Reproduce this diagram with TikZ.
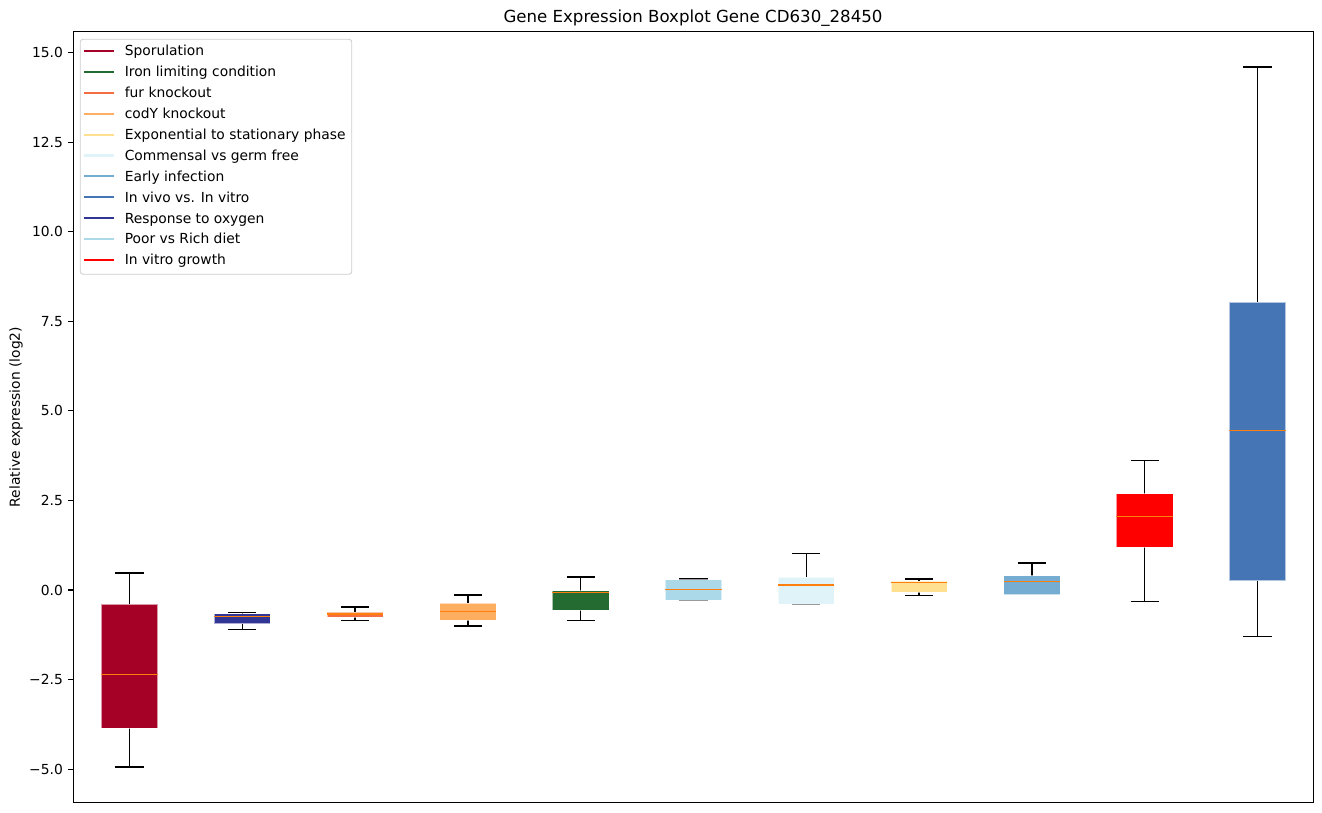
\documentclass[tikz,border=0pt]{standalone}
\usepackage{fontspec}
\setmainfont{DejaVu Sans}
\usetikzlibrary{positioning}
\definecolor{cSpor}{HTML}{A50026}
\definecolor{cIron}{HTML}{236B30}
\definecolor{cFur}{HTML}{F46D43}
\definecolor{cCody}{HTML}{FDAE61}
\definecolor{cExpo}{HTML}{FEE090}
\definecolor{cComm}{HTML}{E0F3F8}
\definecolor{cEarly}{HTML}{74ADD1}
\definecolor{cVivo}{HTML}{4575B4}
\definecolor{cOxy}{HTML}{313695}
\definecolor{cDiet}{HTML}{ABD9E9}
\definecolor{cVitro}{HTML}{FF0000}
\definecolor{cMed}{HTML}{FF7F0E}
\definecolor{cLegEdge}{HTML}{CCCCCC}

\begin{document}
\begin{tikzpicture}[x=0.01in,y=-0.01in,
	whisk/.style={line width=1pt,black},
	medline/.style={line width=0.8pt,cMed},
	boxfill/.style={fill=#1,draw=white,draw opacity=0.6,line width=0.4pt},
	axisline/.style={line width=0.8pt,black},
	ticklabel/.style={font=\fontsize{10}{12}\selectfont,inner sep=0pt,anchor=east}]
	\useasboundingbox (0,0) rectangle (1322,812);

	\node (title) at (693,18) {\fontsize{12}{14}\selectfont Gene Expression Boxplot Gene CD630\_28450};
	\node[rotate=90] (ylab) at (16,417) {\fontsize{10}{12}\selectfont Relative expression (log2)};

	\begin{scope}[shift={(16.7,590)},x=1.1273in,y=0.358in]
		\foreach \p/\lo/\qa/\md/\qb/\hi/\col in {
			1/-4.94/-3.85/-2.37/-0.39/0.47/cSpor,
			2/-1.10/-0.94/-0.74/-0.66/-0.62/cOxy,
			3/-0.85/-0.75/-0.67/-0.61/-0.47/cFur,
			4/-1.01/-0.84/-0.60/-0.36/-0.14/cCody,
			5/-0.85/-0.56/-0.06/-0.02/0.36/cIron,
			6/-0.29/-0.28/0.02/0.29/0.31/cDiet,
			7/-0.39/-0.39/0.14/0.36/1.02/cComm,
			8/-0.15/-0.05/0.21/0.24/0.31/cExpo,
			9/-0.13/-0.13/0.24/0.40/0.75/cEarly,
			10/-0.32/1.20/2.06/2.69/3.62/cVitro,
			11/-1.29/0.26/4.45/8.04/14.60/cVivo}
		{
			\draw[whisk] (\p,\lo) -- (\p,\qa) (\p,\qb) -- (\p,\hi);
			\draw[whisk] (\p-0.125,\lo) -- (\p+0.125,\lo) (\p-0.125,\hi) -- (\p+0.125,\hi);
			\draw[boxfill=\col] (\p-0.25,\qa) rectangle (\p+0.25,\qb);
			\draw[medline] (\p-0.25,\md) -- (\p+0.25,\md);
		}

		\foreach \v/\t [count=\i] in {-5/{−5.0},-2.5/{−2.5},0/0.0,2.5/2.5,5/5.0,7.5/7.5,10/10.0,12.5/12.5,15/15.0}{
			\draw[axisline] (0.5,\v) -- ++(-3.5pt,0) node[ticklabel,left=3.5pt] (tick\i) {\t};
		}
		\draw[axisline] (0.5,-5.92) rectangle (11.5,15.59);
	\end{scope}

	\draw[cLegEdge,fill=white,fill opacity=0.8,rounded corners=2pt,line width=0.6pt] (80.3,39.3) rectangle (351.7,274.3);
	\foreach \lab/\col [count=\i from 0] in {Sporulation/cSpor,Iron limiting condition/cIron,fur knockout/cFur,codY knockout/cCody,Exponential to stationary phase/cExpo,Commensal vs germ free/cComm,Early infection/cEarly,In vivo vs. In vitro/cVivo,Response to oxygen/cOxy,Poor vs Rich diet/cDiet,In vitro growth/cVitro}{
		\draw[\col,line width=1.5pt] (84,51+20.9*\i) -- (114,51+20.9*\i);
		\node[anchor=west,inner sep=0pt,font=\fontsize{10}{12}\selectfont] (leg\i) at (124.5,52.5+20.9*\i) {\strut\lab};
	}
\end{tikzpicture}
\end{document}
